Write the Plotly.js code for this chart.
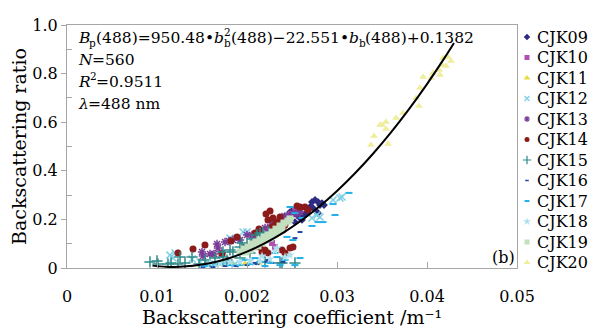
<!DOCTYPE html>
<html>
<head>
<meta charset="utf-8">
<script src="https://cdn.plot.ly/plotly-3.0.1.min.js"></script>
<style>html,body{margin:0;padding:0;background:#fff}#chart{width:609px;height:330px}</style>
</head>
<body>
<div id="chart"></div>
<script>
// ---- data ----
const seriesNames = ["CJK09","CJK10","CJK11","CJK12","CJK13","CJK14","CJK15","CJK16","CJK17","CJK18","CJK19","CJK20"];

const cjk09X = [0.02478,0.02511,0.02556,0.02589,0.02611,0.02622,0.02644,0.02667,0.02678,0.02700,0.02722,0.02733,0.02756,0.02778,0.02789,0.02789,0.02811,0.02833,0.02856,0.02533,0.02456,0.02422];
const cjk09Y = [0.230,0.239,0.218,0.206,0.198,0.210,0.222,0.226,0.239,0.251,0.272,0.247,0.280,0.230,0.272,0.226,0.259,0.267,0.259,0.189,0.198,0.214];

const cjk10X = [0.02233,0.02278,0.02311,0.02344,0.02389,0.02422,0.02456,0.02489,0.02278,0.02311,0.02167,0.02122,0.02367,0.02533,0.02589,0.02200];
const cjk10Y = [0.148,0.156,0.165,0.181,0.193,0.202,0.214,0.222,0.103,0.086,0.123,0.115,0.165,0.239,0.243,0.136];

const cjk11X = [0.01722,0.01833,0.01978,0.02122];
const cjk11Y = [0.016,0.021,0.016,0.021];

const cjk12X = [0.01144,0.01178,0.01200,0.01389,0.01811,0.01956,0.02000,0.02722,0.02778,0.02811,0.02956,0.03033,0.03056,0.01478,0.01644,0.01756,0.01867,0.02033];
const cjk12Y = [0.053,0.041,0.062,0.037,0.123,0.148,0.148,0.206,0.218,0.210,0.280,0.288,0.292,0.025,0.016,0.021,0.016,0.025];

const cjk13X = [0.01500,0.01511,0.01589,0.01633,0.01667,0.01678,0.01722,0.01756,0.01800,0.01844,0.02000,0.02056,0.02067,0.02256,0.02278,0.02367,0.02389,0.02444,0.02478,0.02511,0.02556,0.02589,0.02400,0.01922,0.02144,0.02200];
const cjk13Y = [0.066,0.049,0.058,0.058,0.099,0.082,0.062,0.107,0.111,0.115,0.136,0.136,0.123,0.169,0.189,0.189,0.210,0.210,0.218,0.226,0.222,0.230,0.198,0.115,0.148,0.165];

const cjk14X = [0.01233,0.01400,0.01533,0.01722,0.01822,0.01889,0.01978,0.02033,0.02089,0.02133,0.02144,0.02200,0.02167,0.02233,0.02256,0.02233,0.02289,0.02311,0.02344,0.02278,0.02367,0.02422,0.02389,0.02422,0.02478,0.02511,0.02556,0.02589,0.02644,0.02678,0.02333,0.02211,0.02400];
const cjk14Y = [0.062,0.078,0.095,0.058,0.111,0.128,0.086,0.074,0.144,0.160,0.086,0.074,0.066,0.062,0.235,0.198,0.206,0.177,0.169,0.169,0.210,0.177,0.074,0.062,0.082,0.086,0.255,0.251,0.251,0.239,0.189,0.222,0.156];

const cjk15X = [0.00922,0.01000,0.01011,0.01122,0.01156,0.01233,0.01256,0.01311,0.01389,0.01467,0.01589,0.01733,0.01778,0.01733,0.01844,0.01811,0.01922,0.01944,0.02000,0.02033,0.02056,0.02111,0.02144,0.02178,0.02244,0.02200,0.02367,0.02389,0.02533,0.01922,0.01644,0.01533];
const cjk15Y = [0.025,0.029,0.016,0.016,0.021,0.016,0.045,0.021,0.045,0.016,0.025,0.045,0.033,0.066,0.066,0.074,0.086,0.103,0.095,0.062,0.119,0.136,0.144,0.144,0.148,0.025,0.021,0.021,0.021,0.041,0.041,0.033];

const cjk16X = [0.02533,0.02222,0.02278,0.01511,0.01622,0.01178,0.01367,0.01756,0.02000,0.02111,0.02233,0.02089,0.02400,0.01878,0.02589];
const cjk16Y = [0.123,0.025,0.021,0.004,0.004,0.004,0.008,0.008,0.012,0.016,0.033,0.021,0.025,0.008,0.148];

const cjk17X = [0.03133,0.02956,0.02978,0.02844,0.02478,0.02533,0.02611,0.02444,0.02511,0.02311,0.02333,0.02256,0.02422,0.02589,0.02144,0.02033,0.01922,0.01811,0.01700,0.01589,0.01533,0.02533,0.02367,0.02200,0.02089,0.01978,0.02722,0.02789];
const cjk17Y = [0.309,0.263,0.218,0.189,0.251,0.226,0.206,0.128,0.115,0.062,0.045,0.021,0.033,0.041,0.025,0.016,0.012,0.012,0.016,0.012,0.008,0.012,0.012,0.008,0.041,0.033,0.173,0.189];

const cjk18X = [0.02333,0.02311,0.01811,0.01922,0.02033,0.02144,0.01700,0.01589,0.02256,0.02422,0.02167,0.02478];
const cjk18Y = [0.082,0.070,0.025,0.025,0.029,0.029,0.021,0.021,0.037,0.045,0.049,0.053];

const cjk19X = [0.01922,0.01967,0.02011,0.02056,0.02100,0.02144,0.02189,0.02233,0.02278,0.02322,0.02367,0.02411,0.02456,0.02033,0.02122,0.02211,0.02300,0.02389,0.02478,0.01989,0.02167,0.02256,0.02344,0.02078];
const cjk19Y = [0.066,0.078,0.086,0.099,0.107,0.115,0.128,0.136,0.148,0.160,0.173,0.185,0.193,0.074,0.091,0.115,0.136,0.160,0.202,0.066,0.103,0.123,0.148,0.086];

const cjk20X = [0.04178,0.04233,0.04267,0.04167,0.04211,0.04133,0.04144,0.04067,0.04044,0.03956,0.03922,0.03878,0.03911,0.03733,0.03656,0.03544,0.03500,0.03544,0.03567,0.03478,0.03411,0.03378];
const cjk20Y = [0.864,0.868,0.852,0.835,0.831,0.815,0.794,0.802,0.782,0.786,0.741,0.700,0.667,0.638,0.617,0.601,0.588,0.572,0.510,0.588,0.543,0.506];

// fitted curve
const fitX = [0.0095,0.011,0.0125,0.014,0.016,0.018,0.020,0.022,0.024,0.026,0.028,0.030,0.032,0.034,0.036,0.038,0.040,0.042,0.043];
const fitY = [0.0098,0.0052,0.0048,0.0088,0.0207,0.0402,0.0674,0.1021,0.1445,0.1944,0.2520,0.3171,0.3899,0.4702,0.5582,0.6538,0.7569,0.8677,0.9260];

const xTickVals = [0,0.01,0.02,0.03,0.04,0.05];
const xTickText = ["0","0.01","0.002","0.03","0.04","0.05"];
const yTickVals = [0,0.2,0.4,0.6,0.8,1.0];
const yTickText = ["0","0.2","0.4","0.6","0.8","1.0"];

// ---- styles ----
const FAMILY = "DejaVu Serif";
const FONT = "DejaVu Serif, Liberation Serif, serif";
const W = 609, ML = 67, PLOT_R = 517, PLOT_T = 25, PLOT_B = 268;
const paperW = W - ML;
const mainFrac = (PLOT_R - ML) / paperW;

const xs = [cjk09X,cjk10X,cjk11X,cjk12X,cjk13X,cjk14X,cjk15X,cjk16X,cjk17X,cjk18X,cjk19X,cjk20X];
const ys = [cjk09Y,cjk10Y,cjk11Y,cjk12Y,cjk13Y,cjk14Y,cjk15Y,cjk16Y,cjk17Y,cjk18Y,cjk19Y,cjk20Y];
const markers = [
  {symbol:"diamond", color:"#2e2c82", size:6},
  {symbol:"square", color:"#b050b0", size:6},
  {symbol:"triangle-up", color:"#e6dc3c", size:7},
  {symbol:"x-thin-open", color:"#7ccfe3", size:7, line:{width:1.5, color:"#7ccfe3"}},
  {symbol:"asterisk-open", color:"#7a3d97", size:7, line:{width:1.5, color:"#7a3d97"}},
  {symbol:"circle", color:"#8b1a1a", size:7},
  {symbol:"cross-thin-open", color:"#2f8a8a", size:8, line:{width:1.5, color:"#2f8a8a"}},
  {symbol:"line-ew-open", color:"#2346a0", size:3.5, line:{width:2, color:"#2346a0"}},
  {symbol:"line-ew-open", color:"#22b0e6", size:5, line:{width:2, color:"#22b0e6"}},
  {symbol:"star", color:"#aee0ee", size:7},
  {symbol:"square", color:"#c2dfbe", size:7},
  {symbol:"triangle-up", color:"#eeee9c", size:7}
];
const swatch = [
  {symbol:"diamond", color:"#2e2c82", size:5},
  {symbol:"square", color:"#b050b0", size:5},
  {symbol:"triangle-up", color:"#e6dc3c", size:6},
  {symbol:"x-thin-open", color:"#7ccfe3", size:5, line:{width:1.2, color:"#7ccfe3"}},
  {symbol:"asterisk-open", color:"#7a3d97", size:5, line:{width:1.2, color:"#7a3d97"}},
  {symbol:"circle", color:"#8b1a1a", size:5},
  {symbol:"cross-thin-open", color:"#2f8a8a", size:6, line:{width:1.2, color:"#2f8a8a"}},
  {symbol:"line-ew-open", color:"#2346a0", size:2.5, line:{width:1.5, color:"#2346a0"}},
  {symbol:"line-ew-open", color:"#22b0e6", size:3.5, line:{width:2, color:"#22b0e6"}},
  {symbol:"star", color:"#aee0ee", size:6},
  {symbol:"square", color:"#c2dfbe", size:5},
  {symbol:"triangle-up", color:"#eeee9c", size:6}
];

const traces = seriesNames.map((n,i)=>({
  type:"scatter", mode:"markers", name:n, x:xs[i], y:ys[i],
  marker:markers[i], showlegend:false, xaxis:"x", yaxis:"y"
}));
traces.push({type:"scatter", mode:"lines", name:"fit", x:fitX, y:fitY, showlegend:false,
  line:{color:"#000", width:2, shape:"spline"}, hoverinfo:"skip"});

// custom legend: one swatch per series on a helper axis in the right margin
const legendRows = seriesNames.map((_,i)=>i);
seriesNames.forEach((n,i)=>{
  traces.push({type:"scatter", mode:"markers", name:n, x:[0], y:[legendRows[i]],
    xaxis:"x2", yaxis:"y2", marker:swatch[i], showlegend:false, cliponaxis:false});
});

function px2x(p){return (p-ML)/paperW;}
function px2y(p){return (PLOT_B-p)/(PLOT_B-PLOT_T);}

const ROW0 = 37, ROWH = 20.5;
const y2range = [(PLOT_B-ROW0)/ROWH, (PLOT_T-ROW0)/ROWH];
const SW_X = 527;
const x2range = [PLOT_R-SW_X, W-SW_X];

// rich text: pieces placed one after another, widths measured with canvas
const cv = document.createElement("canvas").getContext("2d");
function textW(t, size, italic){
  cv.font = (italic ? "italic " : "") + size + "px '" + FAMILY + "'";
  return cv.measureText(t).width;
}
const BASE = 15.5, SMALL = 10.5;
function pieceAnn(t, xpx, ypx, size, italic){
  return {xref:"paper", yref:"paper", x:px2x(xpx), y:px2y(ypx), xanchor:"left", yanchor:"middle",
    showarrow:false, borderpad:0, borderwidth:0,
    font:{family:FONT, size:size, color:"#000", style:italic?"italic":"normal"}, text:t};
}
function rich(pieces, x0, yc){
  const out = []; let x = x0;
  pieces.forEach(p=>{
    if (p.stack){
      out.push(pieceAnn(p.sup, x, yc-6, SMALL, false));
      out.push(pieceAnn(p.sub, x, yc+5, SMALL, false));
      x += Math.max(textW(p.sup,SMALL,false), textW(p.sub,SMALL,false));
    } else {
      const size = (p.sub||p.sup) ? SMALL : BASE;
      const dy = p.sub ? 5 : (p.sup ? -6 : 0);
      out.push(pieceAnn(p.t, x, yc+dy, size, !!p.it));
      x += textW(p.t, size, !!p.it);
    }
  });
  return out;
}

let annotations = [];
annotations = annotations.concat(rich([
  {t:"B", it:true}, {t:"p", sub:true}, {t:"(488)=950.48•"},
  {t:"b", it:true}, {stack:true, sup:"2", sub:"b"}, {t:"(488)−22.551•"},
  {t:"b", it:true}, {t:"b", sub:true}, {t:"(488)+0.1382"}
], 78, 38));
annotations = annotations.concat(rich([{t:"N", it:true}, {t:"=560"}], 78, 60));
annotations = annotations.concat(rich([{t:"R", it:true}, {t:"2", sup:true}, {t:"=0.9511"}], 78, 82));
annotations = annotations.concat(rich([{t:"λ", it:true}, {t:"=488 nm"}], 78, 104));
annotations.push({xref:"paper", yref:"paper", x:px2x(515), y:px2y(257), xanchor:"right", yanchor:"middle",
  showarrow:false, borderpad:0, borderwidth:0, font:{family:FONT, size:16, color:"#000"}, text:"(b)"});
seriesNames.forEach((n,i)=>{
  annotations.push({xref:"x2", yref:"y2", x:10, y:legendRows[i], xanchor:"left", yanchor:"middle",
    showarrow:false, borderpad:0, borderwidth:0, font:{family:FONT, size:16, color:"#000"}, text:n});
});

const layout = {
  width:W, height:330,
  margin:{l:ML, r:0, t:PLOT_T, b:330-PLOT_B, pad:0},
  paper_bgcolor:"#fff", plot_bgcolor:"#fff",
  font:{family:FONT, color:"#000", size:16},
  showlegend:false,
  xaxis:{domain:[0,mainFrac], range:[0,0.05], tickvals:xTickVals, ticktext:xTickText, ticks:"inside", ticklen:6,
         tickcolor:"#a6a6a6", showline:true, linecolor:"#a6a6a6", linewidth:1, mirror:true,
         showgrid:false, zeroline:false, tickfont:{family:FONT, size:16}, ticklabelstandoff:14,
         title:{text:"Backscattering coefficient /m⁻¹", font:{family:FONT, size:19}, standoff:3}},
  yaxis:{range:[0,1.0], tickvals:yTickVals, ticktext:yTickText, ticks:"outside", ticklen:5,
         tickcolor:"#a6a6a6", showline:true, linecolor:"#a6a6a6", linewidth:1, mirror:true,
         showgrid:false, zeroline:false, tickfont:{family:FONT, size:16},
         minor:{tickvals:[0.1,0.3,0.5,0.7,0.9], ticks:"inside", ticklen:5, tickcolor:"#a6a6a6"},
         title:{text:"Backscattering ratio", font:{family:FONT, size:19}, standoff:0}},
  xaxis2:{domain:[mainFrac,1], range:x2range, visible:false, showgrid:false, zeroline:false, anchor:"y2"},
  yaxis2:{domain:[0,1], range:y2range, visible:false, showgrid:false, zeroline:false, anchor:"x2"},
  annotations:annotations
};

Plotly.newPlot("chart", traces, layout, {staticPlot:true, displayModeBar:false});
</script>
</body>
</html>
